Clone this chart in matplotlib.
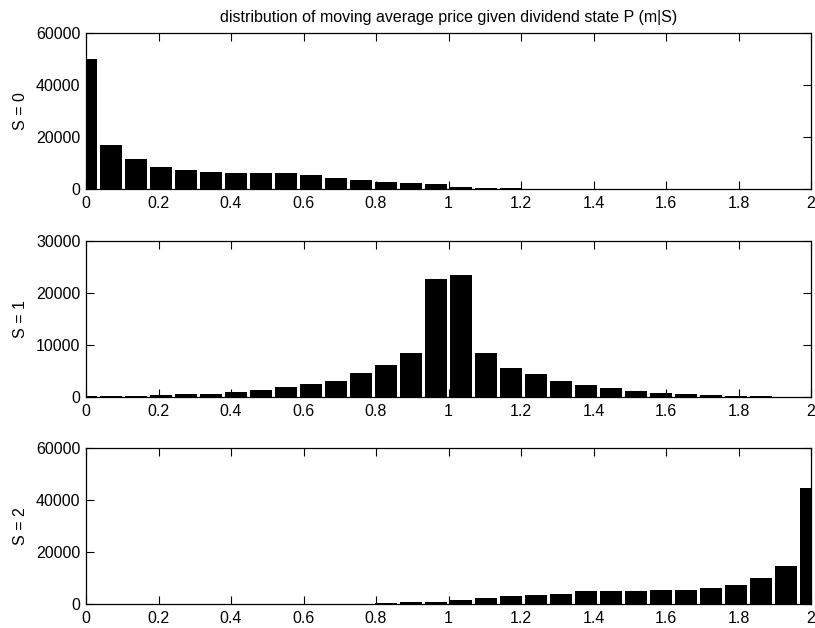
import numpy as np
import matplotlib
matplotlib.use("Agg")
import matplotlib.pyplot as plt

plt.rcParams['font.family'] = ['Liberation Sans', 'DejaVu Sans']

# bin centers: 30 bins from 0 to 2
n_bins = 30
centers = np.linspace(0, 2, n_bins)

counts_s0 = [50000, 16800, 11700, 8600, 7300, 6700, 6000, 6100, 6000, 5300,
             4200, 3500, 2700, 2200, 1900, 900, 500, 200, 100, 60,
             40, 30, 20, 20, 10, 10, 10, 10, 10, 10]
counts_s1 = [200, 150, 250, 450, 500, 650, 1000, 1350, 1850, 2550,
             3150, 4700, 6150, 8450, 22750, 23450, 8450, 5650, 4350, 3100,
             2300, 1750, 1150, 750, 500, 400, 250, 120, 60, 30]
counts_s2 = [10, 10, 10, 10, 10, 20, 20, 30, 40, 60,
             80, 120, 400, 650, 800, 1400, 2200, 2950, 3450, 3700,
             4850, 5150, 5150, 5500, 5500, 6150, 7450, 10100, 14500, 44600]

series = [counts_s0, counts_s1, counts_s2]
ylabels = ["S = 0", "S = 1", "S = 2"]
ylims = [60000, 30000, 60000]
yticks = [[0, 20000, 40000, 60000], [0, 10000, 20000, 30000], [0, 20000, 40000, 60000]]
xticks = [0, 0.2, 0.4, 0.6, 0.8, 1, 1.2, 1.4, 1.6, 1.8, 2]
xticklabels = ["0", "0.2", "0.4", "0.6", "0.8", "1", "1.2", "1.4", "1.6", "1.8", "2"]
title = "distribution of moving average price given dividend state P (m|S)"

fig = plt.figure(figsize=(8.15, 6.28), dpi=100)
W, H = 815, 628
left, right = 86, 811
tops = [33, 241, 448]
axh = 156
spacing = centers[1] - centers[0]

for i in range(3):
    top = tops[i]
    ax = fig.add_axes([left / W, (H - top - axh) / H, (right - left) / W, axh / H])
    ax.bar(centers, series[i], width=spacing * 0.85, color='black', align='center', linewidth=0)
    ax.set_xlim(0, 2)
    ax.set_ylim(0, ylims[i])
    ax.set_xticks(xticks)
    ax.set_xticklabels(xticklabels)
    ax.set_yticks(yticks[i])
    ax.set_yticklabels([str(v) for v in yticks[i]])
    ax.tick_params(direction='in', top=True, right=True, length=6, width=0.8,
                   labelsize=11.5, colors='black')
    ax.tick_params(axis='x', pad=5)
    ax.tick_params(axis='y', pad=4)
    ax.set_ylabel(ylabels[i], fontsize=11.5, labelpad=6)
    for s in ax.spines.values():
        s.set_linewidth(0.9)
    if i == 0:
        ax.set_title(title, fontsize=11.5, pad=8)

fig.savefig("out.png", dpi=100)
